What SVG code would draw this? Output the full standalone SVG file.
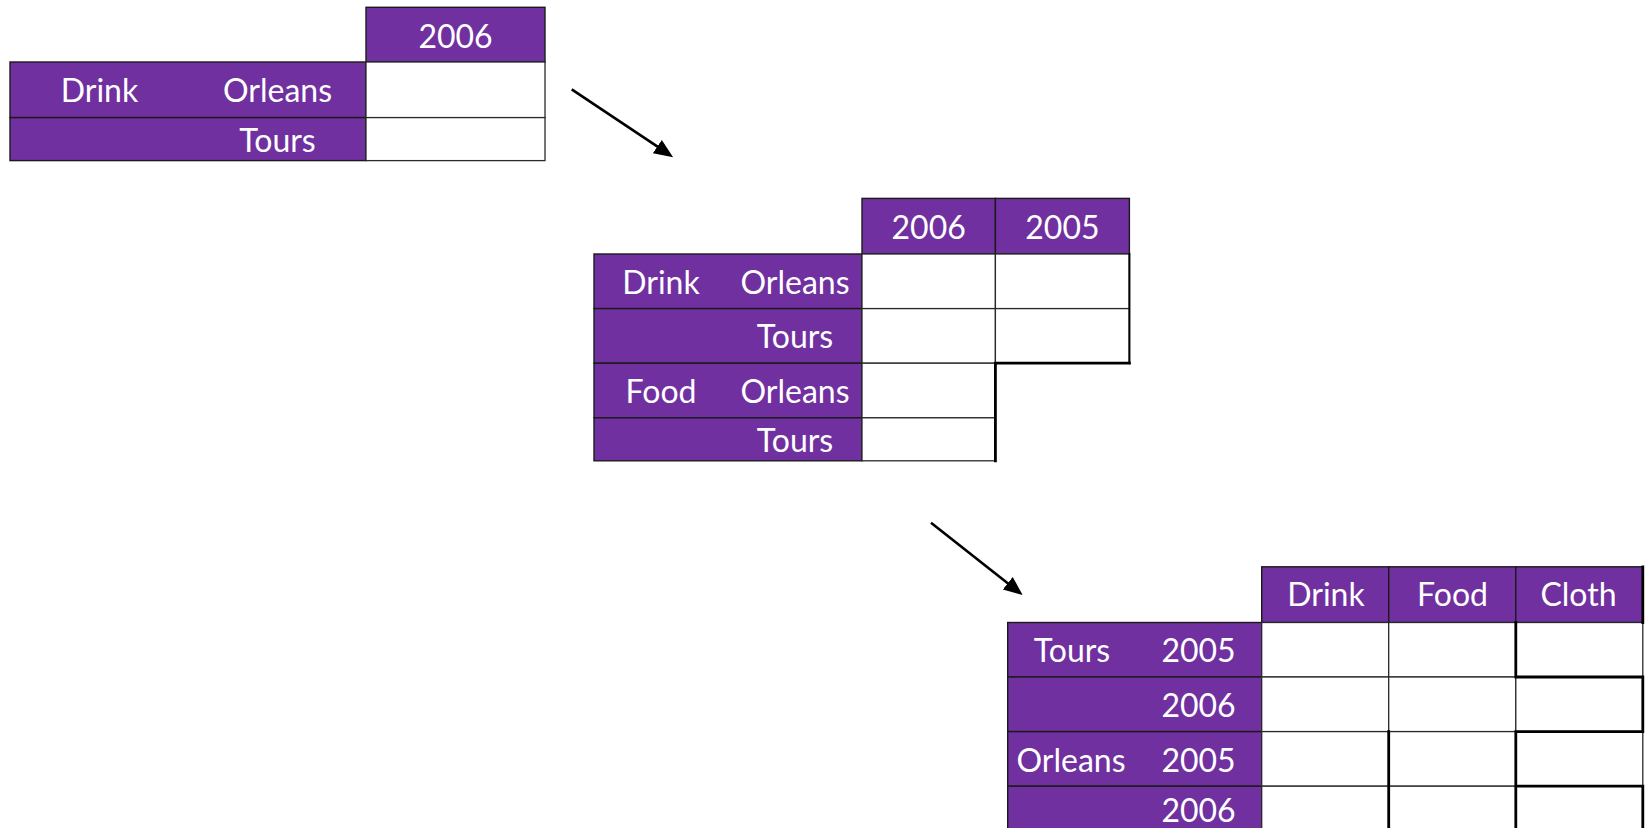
<svg xmlns="http://www.w3.org/2000/svg" width="1646" height="828" viewBox="0 0 1646 828">
  <style>
    .p { fill: #7030A0; stroke: #1a1a1a; stroke-width: 1.4; }
    .w { fill: #ffffff; stroke: #2a2a2a; stroke-width: 1.3; }
    .thick { fill: none; stroke: #000000; stroke-width: 2.8; stroke-linecap: square; }
    .t { fill: #ffffff; font-family: Lato, "Open Sans", "Liberation Sans", sans-serif; font-size: 32px; text-anchor: middle; }
    .arrow { fill: none; stroke: #000000; stroke-width: 2.6; }
  </style>
  <defs>
    <marker id="head" viewBox="0 -9 20 18" refX="2" refY="0" markerWidth="20" markerHeight="18" markerUnits="userSpaceOnUse" orient="auto">
      <path d="M0,-8 L19,0 L0,8 Z" fill="#000000"/>
    </marker>
  </defs>
  <rect width="1646" height="828" fill="#ffffff"/>

  <!-- Table 1: one year column -->
  <g id="table1">
    <rect class="p" x="366" y="7.3" width="179" height="54.7"/>
    <rect class="p" x="10" y="62" width="356" height="55.6"/>
    <rect class="p" x="10" y="117.6" width="356" height="43"/>
    <rect class="w" x="366" y="62" width="179" height="55.6"/>
    <rect class="w" x="366" y="117.6" width="179" height="43"/>
    <text class="t" x="455.5" y="48.3">2006</text>
    <text class="t" x="99.5" y="101.7">Drink</text>
    <text class="t" x="277.5" y="101.7">Orleans</text>
    <text class="t" x="277.5" y="151.7">Tours</text>
  </g>

  <!-- Table 2: two year columns -->
  <g id="table2">
    <rect class="p" x="862" y="198.4" width="133.4" height="55.6"/>
    <rect class="p" x="995.4" y="198.4" width="134" height="55.6"/>
    <rect class="p" x="594" y="254" width="268" height="54.6"/>
    <rect class="p" x="594" y="308.6" width="268" height="54.6"/>
    <rect class="p" x="594" y="363.2" width="268" height="54.6"/>
    <rect class="p" x="594" y="417.8" width="268" height="43"/>
    <rect class="w" x="862" y="254" width="133.4" height="54.6"/>
    <rect class="w" x="995.4" y="254" width="134" height="54.6"/>
    <rect class="w" x="862" y="308.6" width="133.4" height="54.6"/>
    <rect class="w" x="995.4" y="308.6" width="134" height="54.6"/>
    <rect class="w" x="862" y="363.2" width="133.4" height="54.6"/>
    <rect class="w" x="862" y="417.8" width="133.4" height="43"/>
    <path class="thick" d="M995.4,363.2 V460.8 M995.4,363.2 H1129.4"/>
    <path class="thick" style="stroke-width:2" d="M1129.4,254 V363.2"/>
    <text class="t" x="928.7" y="239.3">2006</text>
    <text class="t" x="1062.4" y="239.3">2005</text>
    <text class="t" x="661" y="294">Drink</text>
    <text class="t" x="795" y="294">Orleans</text>
    <text class="t" x="795" y="348.3">Tours</text>
    <text class="t" x="661" y="402.7">Food</text>
    <text class="t" x="795" y="402.7">Orleans</text>
    <text class="t" x="795" y="451.7">Tours</text>
  </g>

  <!-- Table 3: product columns, city/year rows -->
  <g id="table3">
    <rect class="p" x="1261.7" y="566.8" width="127" height="55.7"/>
    <rect class="p" x="1388.7" y="566.8" width="127.1" height="55.7"/>
    <rect class="p" x="1515.8" y="566.8" width="127" height="55.7"/>
    <rect class="p" x="1007.7" y="622.5" width="254" height="54.5"/>
    <rect class="p" x="1007.7" y="677" width="254" height="54.6"/>
    <rect class="p" x="1007.7" y="731.6" width="254" height="54.6"/>
    <rect class="p" x="1007.7" y="786.2" width="254" height="44"/>
    <rect class="w" x="1261.7" y="622.5" width="127" height="54.5"/>
    <rect class="w" x="1388.7" y="622.5" width="127.1" height="54.5"/>
    <rect class="w" x="1515.8" y="622.5" width="127" height="54.5"/>
    <rect class="w" x="1261.7" y="677" width="127" height="54.6"/>
    <rect class="w" x="1388.7" y="677" width="127.1" height="54.6"/>
    <rect class="w" x="1515.8" y="677" width="127" height="54.6"/>
    <rect class="w" x="1261.7" y="731.6" width="127" height="54.6"/>
    <rect class="w" x="1388.7" y="731.6" width="127.1" height="54.6"/>
    <rect class="w" x="1515.8" y="731.6" width="127" height="54.6"/>
    <rect class="w" x="1261.7" y="786.2" width="127" height="44"/>
    <rect class="w" x="1388.7" y="786.2" width="127.1" height="44"/>
    <rect class="w" x="1515.8" y="786.2" width="127" height="44"/>
    <path class="thick" d="M1642.8,566.8 V622.5 M1515.8,622.5 V677 M1515.8,677 H1642.8 V731.6 H1515.8 M1515.8,731.6 V830 M1515.8,786.2 H1642.8 V830 M1388.7,731.6 V830"/>
    <text class="t" x="1326" y="606">Drink</text>
    <text class="t" x="1452.5" y="606">Food</text>
    <text class="t" x="1578.5" y="606">Cloth</text>
    <text class="t" x="1072" y="661.7">Tours</text>
    <text class="t" x="1198.5" y="661.7">2005</text>
    <text class="t" x="1198.5" y="717.3">2006</text>
    <text class="t" x="1071" y="772.3">Orleans</text>
    <text class="t" x="1198.5" y="772.3">2005</text>
    <text class="t" x="1198.5" y="821.7">2006</text>
  </g>

  <!-- Connectors between the tables -->
  <g id="connectors">
    <path class="arrow" marker-end="url(#head)" d="M571.7,89.3 L659,147.7"/>
    <path class="arrow" marker-end="url(#head)" d="M931,522.7 L1009.3,584.5"/>
  </g>
</svg>
